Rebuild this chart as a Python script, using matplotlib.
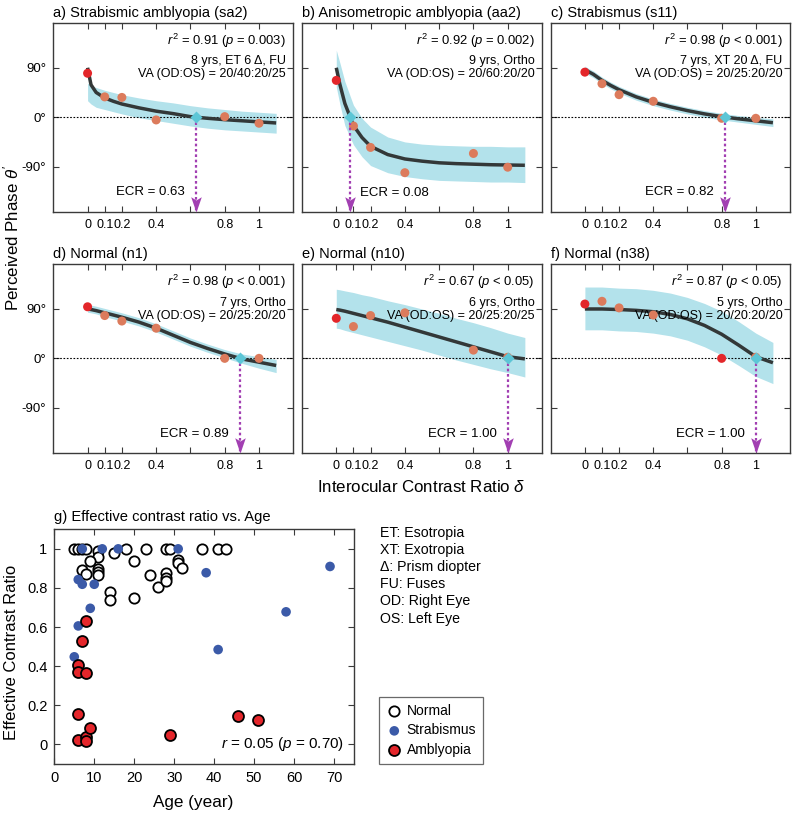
import numpy as np
import matplotlib.pyplot as plt
from matplotlib.path import Path

plt.rcParams["font.family"] = ["Liberation Sans", "DejaVu Sans"]
plt.rcParams["mathtext.fontset"] = "custom"
plt.rcParams["mathtext.rm"] = "Liberation Sans"
plt.rcParams["mathtext.it"] = "Liberation Sans:italic"

# ---- panels a-f: perceived phase vs interocular contrast ratio ----
delta_pts = [0, 0.1, 0.2, 0.4, 0.8, 1.0]
delta_fit = [0, 0.02, 0.05, 0.1, 0.15, 0.2, 0.3, 0.4, 0.5, 0.6, 0.7, 0.8, 0.9, 1.0, 1.1]

theta_a = [80, 37, 36, -5, 1, -11]
theta_b = [67, -16, -55, -101, -66, -91]
theta_c = [82, 61, 41, 29, -2, -2]
theta_d = [94, 78, 68, 55, 0, 0]
theta_e = [73, 58, 78, 83, 15, 2]
theta_f = [99, 104, 92, 79, 0, 2]

fit_a = [90, 59, 45, 35, 29, 24, 17, 11, 6.5, 1, -2, -4.5, -6.5, -8.5, -10.5]
fit_b = [90, 61, 25, -15, -37, -53, -68, -76, -80, -83, -84.5, -85.5, -86.5, -87, -87.5]
fit_c = [87, 83, 78, 67, 58, 50, 37, 27, 19, 12, 6, 1, -3, -6.5, -10]
fit_d = [90, 89, 87, 83, 79, 75, 66, 55, 42, 29, 18, 8, -1, -7, -13]
fit_e = [89, 88, 86, 82, 78, 74, 66, 57, 48, 39, 30, 21, 12, 3, -1]
fit_f = [90, 90, 90, 90, 89.5, 89, 87.5, 85, 80, 72, 60, 44, 24, 3, -8]

hi_a = [62, 58, 54, 49, 45, 41, 35, 30, 26, 21, 17, 14, 11, 9, 7]
lo_a = [30, 24, 18, 14, 10, 6, -1, -6, -11, -16, -20, -23, -25, -27, -29]
hi_b = [122, 100, 65, 22, -2, -18, -36, -45, -49, -51, -52, -53, -53, -54, -54]
lo_b = [55, 25, -15, -50, -72, -88, -101, -108, -112, -115, -116, -117, -118, -118, -119]
hi_c = [93, 89, 84, 73, 64, 56, 43, 33, 25, 18, 12, 7, 3, 0, -3]
lo_c = [80, 77, 72, 61, 52, 44, 31, 21, 13, 6, 0, -5, -9, -13, -17]
hi_d = [98, 97, 95, 91, 87, 83, 74, 63, 50, 37, 26, 16, 8, 3, -2]
lo_d = [84, 83, 81, 76, 72, 68, 59, 48, 35, 22, 11, 1, -9, -18, -26]
hi_e = [126, 125, 123, 120, 116, 113, 105, 98, 90, 82, 73, 65, 56, 46, 38]
lo_e = [55, 54, 51, 47, 43, 39, 31, 23, 15, 6, -3, -11, -19, -26, -34]
hi_f = [130, 130, 130, 130, 129, 128, 127, 124, 119, 111, 100, 86, 67, 46, 29]
lo_f = [52, 52, 52, 52, 51, 50, 49, 46, 41, 33, 21, 6, -13, -33, -46]

RED = "#e3262a"
SAL = "#dc7b5c"
pt_colors = [
    [RED, SAL, SAL, SAL, SAL, SAL],
    [RED, SAL, SAL, SAL, SAL, SAL],
    [RED, SAL, SAL, SAL, SAL, SAL],
    [RED, SAL, SAL, SAL, SAL, SAL],
    [RED, SAL, SAL, SAL, SAL, SAL],
    [RED, SAL, SAL, SAL, RED, SAL],
]

ecr_vals = [0.63, 0.08, 0.82, 0.89, 1.00, 1.00]
titles = ["a) Strabismic amblyopia (sa2)", "b) Anisometropic amblyopia (aa2)",
          "c) Strabismus (s11)", "d) Normal (n1)", "e) Normal (n10)", "f) Normal (n38)"]
stats = [r"$r^2$ = 0.91 ($p$ = 0.003)", r"$r^2$ = 0.92 ($p$ = 0.002)",
         r"$r^2$ = 0.98 ($p$ < 0.001)", r"$r^2$ = 0.98 ($p$ < 0.001)",
         r"$r^2$ = 0.67 ($p$ < 0.05)", r"$r^2$ = 0.87 ($p$ < 0.05)"]
info = ["8 yrs, ET 6 Δ, FU", "9 yrs, Ortho", "7 yrs, XT 20 Δ, FU",
        "7 yrs, Ortho", "6 yrs, Ortho", "5 yrs, Ortho"]
va_txt = ["VA (OD:OS) = 20/40:20/25", "VA (OD:OS) = 20/60:20/20",
          "VA (OD:OS) = 20/25:20/20", "VA (OD:OS) = 20/25:20/20",
          "VA (OD:OS) = 20/25:20/25", "VA (OD:OS) = 20/20:20/20"]

# ---- panel g: effective contrast ratio vs age ----
normal_age = [5, 6, 7, 8, 18, 23, 28, 29, 37, 41, 43, 11, 11, 15, 9, 20, 7, 8,
              11, 11, 11, 24, 26, 28, 28, 28, 31, 31, 32, 14, 14, 20]
normal_ecr = [1, 1, 1, 1, 1, 1, 1, 1, 1, 1, 1, 0.99, 0.96, 0.98, 0.94, 0.94, 0.89, 0.87,
              0.895, 0.88, 0.865, 0.865, 0.805, 0.875, 0.85, 0.835, 0.945, 0.93, 0.9,
              0.78, 0.74, 0.75]
strab_age = [7, 12, 16, 31, 6, 7, 10, 9, 38, 69, 58, 6, 5, 41]
strab_ecr = [1, 1, 1, 1, 0.843, 0.819, 0.819, 0.696, 0.878, 0.91, 0.678, 0.606, 0.448, 0.485]
ambly_age = [8, 7, 6, 6, 8, 6, 6, 8, 8, 9, 29, 46, 51]
ambly_ecr = [0.633, 0.53, 0.407, 0.37, 0.367, 0.155, 0.024, 0.037, 0.02, 0.083, 0.05, 0.147, 0.123]

notes = ["ET: Esotropia", "XT: Exotropia", "Δ: Prism diopter", "FU: Fuses",
         "OD: Right Eye", "OS: Left Eye"]

W, H = 795, 815
fig = plt.figure(figsize=(W / 100, H / 100), dpi=100)


def add_ax(l, t, r, b):
    return fig.add_axes([l / W, 1 - b / H, (r - l) / W, (b - t) / H])


def style(ax, size):
    for s in ax.spines.values():
        s.set_color("#3a3a3a")
        s.set_linewidth(1.0)
    ax.tick_params(direction="in", top=True, right=True, length=4, width=0.8,
                   labelsize=size, colors="#3a3a3a", labelcolor="black", pad=5)


BAND = "#b3e2eb"
CURVE = "#333838"
PURPLE = "#a23fb2"
CYAN = "#5cc6d6"
arrow_head = Path([(0, 0), (-0.45, 1.3), (0, 1.02), (0.45, 1.3), (0, 0)],
                  [Path.MOVETO, Path.LINETO, Path.LINETO, Path.LINETO, Path.CLOSEPOLY])

cols = [(53.3, 293.3), (302.0, 542.0), (550.7, 790.0)]
rows = [(22.7, 211.7), (264.0, 452.7)]
thetas = [theta_a, theta_b, theta_c, theta_d, theta_e, theta_f]
fits = [fit_a, fit_b, fit_c, fit_d, fit_e, fit_f]
his = [hi_a, hi_b, hi_c, hi_d, hi_e, hi_f]
los = [lo_a, lo_b, lo_c, lo_d, lo_e, lo_f]
YLIM = 172

for i in range(6):
    r, c = divmod(i, 3)
    ax = add_ax(cols[c][0], rows[r][0], cols[c][1], rows[r][1])
    style(ax, 9)
    ax.fill_between(delta_fit, los[i], his[i], color=BAND, lw=0, zorder=1)
    ax.axhline(0, color="black", ls=(0, (1.5, 1.5)), lw=0.8, zorder=2)
    ax.plot(delta_fit, fits[i], color=CURVE, lw=2.5, zorder=3, solid_capstyle="butt")
    ax.scatter(delta_pts, thetas[i], c=pt_colors[i], s=42, edgecolors="none", zorder=4)
    e = ecr_vals[i]
    ax.plot([e, e], [0, -YLIM], color=PURPLE, ls=(0, (1.2, 1.2)), lw=1.6, zorder=5)
    ax.plot(e, -YLIM, marker=arrow_head, ms=22, color=PURPLE, mec="none",
            clip_on=False, zorder=6)
    ax.plot(e, 0, marker="D", ms=6, color=CYAN, mec="none", zorder=6)
    if i == 1:
        ax.text(e + 0.06, -138, f"ECR = {e:.2f}", ha="left", va="center", fontsize=9.5)
    else:
        ax.text(e - 0.065, -137, f"ECR = {e:.2f}", ha="right", va="center", fontsize=9.5)
    ax.text(0.968, 0.905, stats[i], transform=ax.transAxes, ha="right", va="center",
            fontsize=9.4)
    ax.text(0.968, 0.795, info[i], transform=ax.transAxes, ha="right", va="center",
            fontsize=9.0)
    ax.text(0.968, 0.726, va_txt[i], transform=ax.transAxes, ha="right", va="center",
            fontsize=9.0)
    ax.set_xlim(-0.2, 1.2)
    ax.set_ylim(-YLIM, YLIM)
    ax.set_xticks([0, 0.1, 0.2, 0.4, 0.6, 0.8, 1])
    ax.set_xticklabels(["0", "0.1", "0.2", "0.4", "", "0.8", "1"])
    ax.set_yticks([-90, 0, 90])
    if c == 0:
        ax.set_yticklabels(["-90°", "0°", "90°"])
        ax.tick_params(axis="y", labelsize=9.5)
    else:
        ax.set_yticklabels([])
    ax.set_title(titles[i], loc="left", fontsize=10.5, pad=4)

fig.text(11 / W, 1 - 238 / H, r"Perceived Phase $\theta'$", rotation=90,
         ha="center", va="center", fontsize=12.2)
fig.text(421 / W, 1 - 487 / H, r"Interocular Contrast Ratio $\delta$",
         ha="center", va="center", fontsize=12.2)

# ---- panel g ----
axg = add_ax(54.3, 529.3, 354.0, 764.0)
style(axg, 10.5)
axg.scatter(normal_age, normal_ecr, s=55, facecolors="white", edgecolors="black",
            linewidths=1.3, zorder=3, label="Normal")
axg.scatter(strab_age, strab_ecr, s=48, color="#3b5aa8", edgecolors="none",
            zorder=4, label="Strabismus")
axg.scatter(ambly_age, ambly_ecr, s=62, facecolors="#e4262b", edgecolors="black",
            linewidths=1.3, zorder=5, label="Amblyopia")
axg.set_xlim(0, 75)
axg.set_ylim(-0.1, 1.1)
axg.set_xticks(range(0, 80, 10))
axg.set_yticks([0, 0.2, 0.4, 0.6, 0.8, 1])
axg.set_yticklabels(["0", "0.2", "0.4", "0.6", "0.8", "1"])
axg.text(72.5, 0, r"$r$ = 0.05 ($p$ = 0.70)", ha="right", va="center", fontsize=11)
axg.set_title("g) Effective contrast ratio vs. Age", loc="left", fontsize=10.6, pad=6)
fig.text(193 / W, 1 - 803 / H, "Age (year)", ha="center", va="center", fontsize=12.3)
fig.text(12 / W, 1 - 652 / H, "Effective Contrast Ratio", rotation=90,
         ha="center", va="center", fontsize=12.0)

leg = axg.legend(loc="lower left", bbox_to_anchor=(379 / W, 1 - 764 / H),
                 bbox_transform=fig.transFigure, fontsize=10, frameon=True,
                 fancybox=False, handletextpad=0.3, borderpad=0.5,
                 labelspacing=0.4, handlelength=1.2, borderaxespad=0)
leg.get_frame().set_edgecolor("#444444")
leg.get_frame().set_linewidth(0.9)

for k, t in enumerate(notes):
    fig.text(380 / W, 1 - (533 + 17.1 * k) / H, t, ha="left", va="center", fontsize=10.2)

fig.savefig("out.png", dpi=100)
